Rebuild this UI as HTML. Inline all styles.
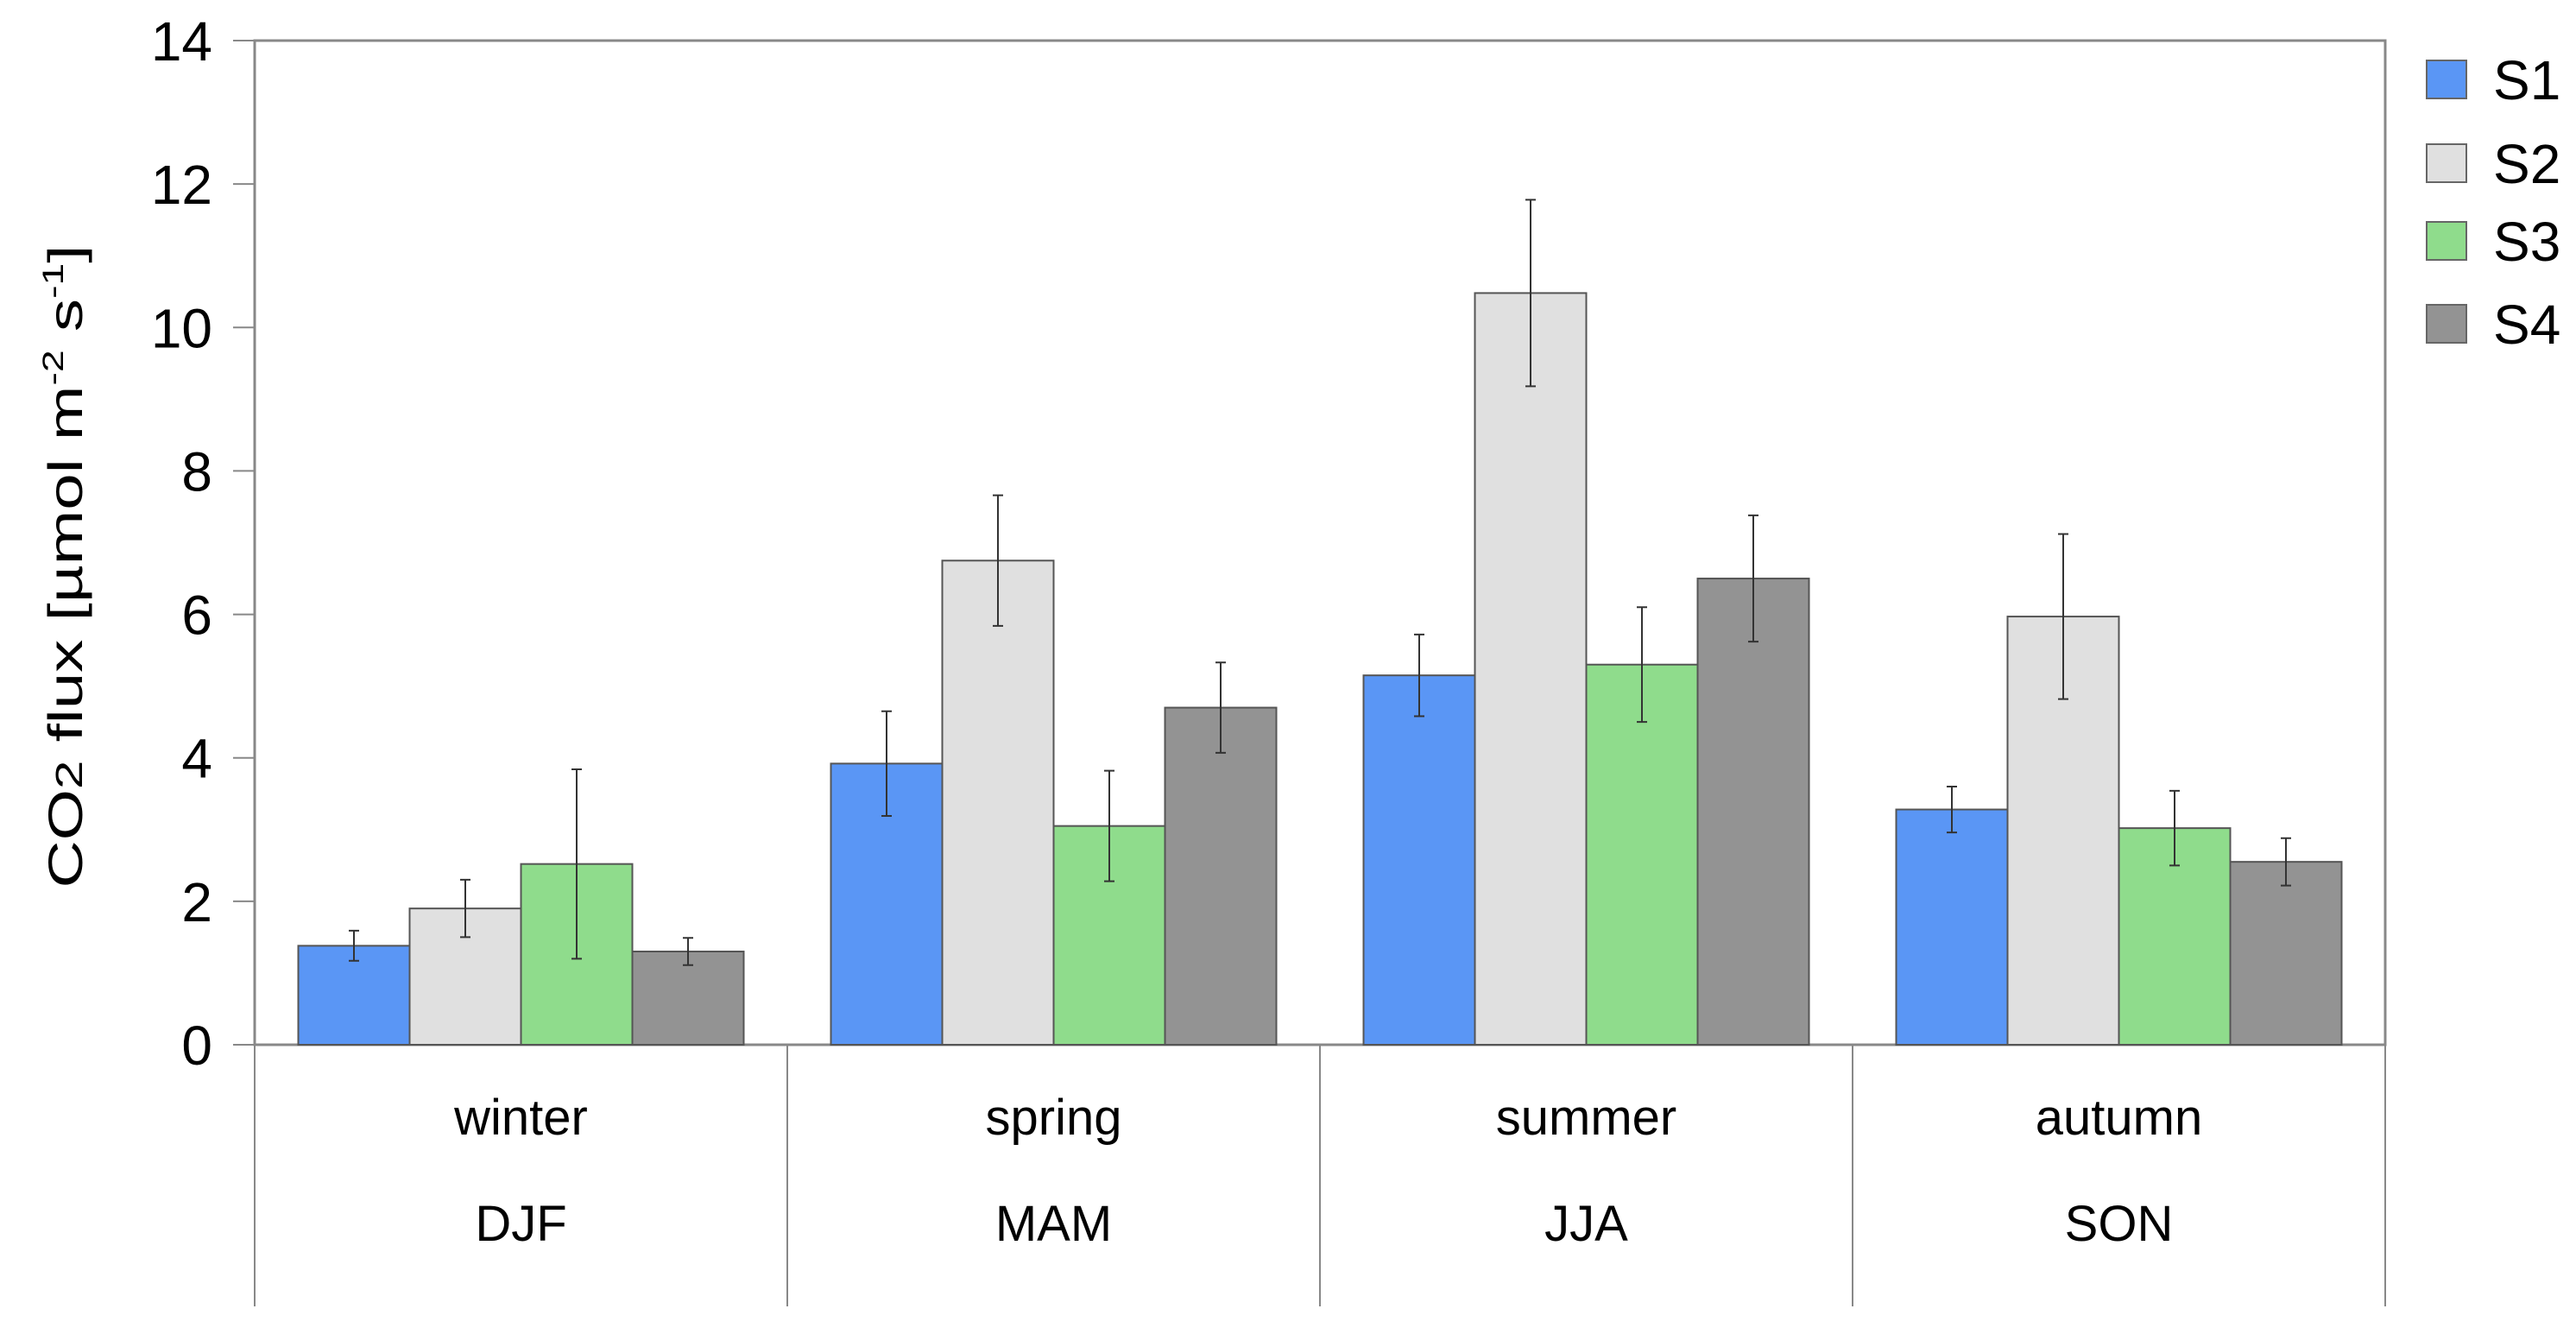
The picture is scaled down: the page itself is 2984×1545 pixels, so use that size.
<!DOCTYPE html>
<html><head><meta charset="utf-8"><style>html,body{margin:0;padding:0;background:#fff}svg{display:block}</style></head>
<body>
<svg id="chart" width="2984" height="1545" viewBox="0 0 2984 1545" xmlns="http://www.w3.org/2000/svg" font-family="Liberation Sans, Arial, sans-serif">
<g id="grid"></g>
<g id="bars"></g>
<g id="axis"></g>
<text transform="translate(95,656) rotate(-90)" text-anchor="middle" font-size="56" fill="#000" textLength="745" lengthAdjust="spacingAndGlyphs">CO<tspan font-size="44">2</tspan> flux [µmol m<tspan font-size="34" dy="-22">-2</tspan><tspan dy="22"> s</tspan><tspan font-size="34" dy="-22">-1</tspan><tspan dy="22">]</tspan></text>
<g id="legend"></g>
</svg>
<script>
const seasons = ["winter","spring","summer","autumn"];
const codes = ["DJF","MAM","JJA","SON"];
const seriesNames = ["S1","S2","S3","S4"];
const s1 = [1.38, 3.92, 5.15, 3.28];
const s2 = [1.90, 6.75, 10.48, 5.97];
const s3 = [2.52, 3.05, 5.30, 3.02];
const s4 = [1.30, 4.70, 6.50, 2.55];
const e1 = [0.21, 0.73, 0.57, 0.32];
const e2 = [0.40, 0.91, 1.30, 1.15];
const e3 = [1.32, 0.77, 0.80, 0.52];
const e4 = [0.19, 0.63, 0.88, 0.33];
const yTicks = [0,2,4,6,8,10,12,14];

const colors = ["#5a96f5","#e0e0e0","#8fdc8c","#939393"];
const NS = "http://www.w3.org/2000/svg";
const L = 295, R = 2763, Y0 = 1210, YTOP = 47, BOT = 1513;
const yMax = 14;
function y(v){ return Y0 - v/yMax*(Y0-YTOP); }
const gw = (R-L)/seasons.length;
const bw = 129;
function xBar(g,s){ return L + g*gw + (gw - 4*bw)/2 + s*bw; }
function mk(tag, attrs, parent){ const e=document.createElementNS(NS,tag); for(const k in attrs) e.setAttribute(k,attrs[k]); parent.appendChild(e); return e; }
const grid=document.getElementById('grid'), bars=document.getElementById('bars'), axis=document.getElementById('axis'), legend=document.getElementById('legend');

// frame
let f = mk('rect',{x:L,y:YTOP,width:R-L,height:Y0-YTOP,fill:'none',stroke:'#888','stroke-width':3},grid);



const vals=[s1,s2,s3,s4], errs=[e1,e2,e3,e4];
for(let g=0; g<seasons.length; g++){
  for(let s=0; s<4; s++){
    const v=vals[s][g], e=errs[s][g], x=xBar(g,s);
    const r = mk('rect',{x:x,y:y(v),width:bw,height:Y0-y(v),fill:colors[s],stroke:'#555','stroke-width':2},bars);
    
    
    const cx=x+bw/2;
    const eb = mk('path',{d:`M${cx},${y(v+e)}V${y(v-e)}M${cx-6},${y(v+e)}H${cx+6}M${cx-6},${y(v-e)}H${cx+6}`,stroke:'#333','stroke-width':2,fill:'none'},bars);
    
    
  }
  const t1 = mk('text',{x:L+g*gw+gw/2,y:1314,'text-anchor':'middle','font-size':58,fill:'#000'},axis);
  t1.textContent=seasons[g];
  
  
  const t2 = mk('text',{x:L+g*gw+gw/2,y:1437,'text-anchor':'middle','font-size':58,fill:'#000'},axis);
  t2.textContent=codes[g];
  
  
}
for(let i=0;i<=seasons.length;i++){
  const x=L+i*gw;
  const d = mk('line',{x1:x,y1:Y0,x2:x,y2:BOT,stroke:'#888','stroke-width':2},axis);
  
  
}
yTicks.forEach(v=>{
  const tk = mk('line',{x1:270,y1:y(v),x2:L,y2:y(v),stroke:'#888','stroke-width':2},axis);
  
  
  const tl = mk('text',{x:246,y:y(v)+23,'text-anchor':'end','font-size':64,fill:'#000'},axis);
  tl.textContent=String(v);
  
  
});
const legY=[70,167,257,353];
seriesNames.forEach((n,i)=>{
  const g = mk('g',{},legend);
  
  
  mk('rect',{x:2811,y:legY[i],width:46,height:44,fill:colors[i],stroke:'#666','stroke-width':2},g);
  const t = mk('text',{x:2888,y:legY[i]+45,'font-size':64,fill:'#000'},g);
  t.textContent=n;
});
</script>
</body></html>
